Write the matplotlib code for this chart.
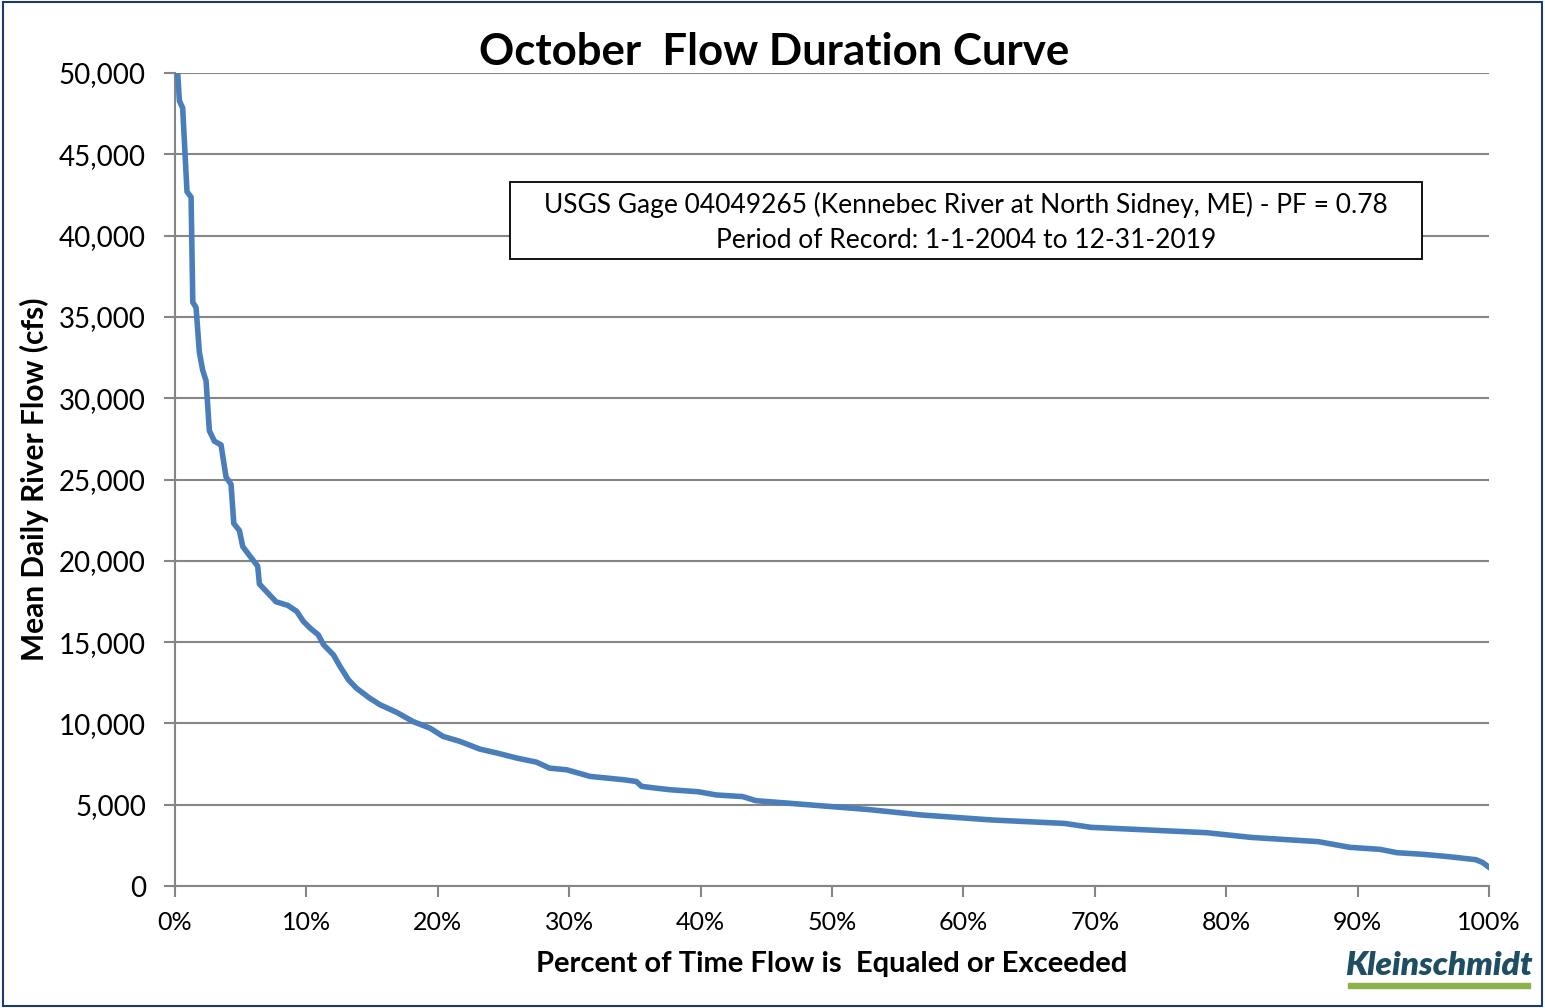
import matplotlib as mpl

mpl.use('Agg')
import matplotlib.pyplot as plt
from matplotlib.patches import Rectangle
from matplotlib.ticker import FuncFormatter

plt.rcParams['font.family'] = ['Lato', 'DejaVu Sans']

# percent of time flow is equaled or exceeded
pct = [0.08, 0.2, 0.33, 0.58, 0.91, 1.22, 1.35, 1.6, 1.85, 2.1, 2.36, 2.61,
       3.0, 3.5, 3.88, 4.26, 4.47, 4.9, 5.15, 5.66, 6.29, 6.42, 7.06, 7.69,
       8.58, 9.26, 9.77, 10.28, 10.9, 11.3, 12.05, 12.56, 13.2, 13.8, 14.8,
       15.6, 16.87, 18.1, 19.4, 20.4, 21.7, 23.2, 24.5, 26.0, 27.5, 28.5,
       29.8, 31.6, 34.1, 35.1, 35.5, 36.6, 37.7, 39.8, 41.2, 43.2, 44.2,
       46.9, 52.7, 56.8, 62.2, 67.7, 69.7, 78.5, 81.9, 87.0, 89.4, 91.7,
       93.0, 95.0, 97.0, 99.0, 99.5, 100.0]
# mean daily river flow (cfs)
flow = [55000, 50000, 48290, 47850, 42700, 42370, 35900, 35570, 32830, 31730,
        31070, 28000, 27350, 27130, 25150, 24710, 22300, 21860, 20880, 20330,
        19670, 18570, 18020, 17480, 17260, 16890, 16270, 15860, 15450, 14840,
        14220, 13500, 12680, 12170, 11560, 11150, 10680, 10120, 9710, 9200,
        8890, 8420, 8180, 7870, 7620, 7250, 7150, 6740, 6540, 6430, 6130,
        6020, 5920, 5800, 5600, 5500, 5250, 5080, 4710, 4370, 4060, 3850,
        3610, 3280, 2990, 2730, 2380, 2255, 2050, 1950, 1800, 1620, 1450, 1150]

x_ticks = list(range(0, 101, 10))
y_ticks = list(range(0, 50001, 5000))

fig = plt.figure(figsize=(15.45, 10.08), dpi=100)
ax = fig.add_axes([0.1133, 0.121, 0.8505, 0.8066])

grid_col = '#868686'
ax.plot(pct, flow, color='#4A7EBB', lw=4.0, solid_joinstyle='round', zorder=3)

ax.set_xlim(0, 100)
ax.set_ylim(0, 50000)
ax.set_xticks(x_ticks)
ax.set_yticks(y_ticks)
ax.xaxis.set_major_formatter(FuncFormatter(lambda v, p: f'{int(v)}%'))
ax.yaxis.set_major_formatter(FuncFormatter(lambda v, p: f'{int(v):,}'))
ax.yaxis.grid(True, color=grid_col, lw=1.5)
ax.set_axisbelow(True)
for s in ['top', 'right']:
    ax.spines[s].set_visible(False)
for s in ['left', 'bottom']:
    ax.spines[s].set_color(grid_col)
    ax.spines[s].set_linewidth(1.5)
ax.tick_params(axis='both', colors=grid_col, width=1.5, length=8,
               labelcolor='black')
ax.tick_params(axis='x', pad=10, labelsize=18)
ax.tick_params(axis='y', pad=13, labelsize=20)

ax.set_xlabel('Percent of Time Flow is  Equaled or Exceeded', fontsize=21,
              fontweight='bold', labelpad=12)
ax.set_ylabel('Mean Daily River Flow (cfs)', fontsize=21.5,
              fontweight='bold', labelpad=7)

fig.text(0.501, 0.948, 'October  Flow Duration Curve', ha='center',
         va='center', fontsize=31.5, fontweight='bold')

# annotation box
ax.add_patch(Rectangle((0.2549, 0.7712), 0.6941, 0.0947, transform=ax.transAxes,
                       fc='white', ec='black', lw=1.3, zorder=4))
ax.text(0.602, 0.8167,
        'USGS Gage 04049265 (Kennebec River at North Sidney, ME) - PF = 0.78\n'
        'Period of Record: 1-1-2004 to 12-31-2019',
        transform=ax.transAxes, ha='center', va='center', fontsize=19,
        linespacing=1.5, zorder=5)

# logo
fig.text(0.931, 0.0425, 'Kleinschmidt', ha='center', va='center',
         fontsize=24, fontweight='heavy', style='italic', color='#1E4E62')
fig.patches.append(Rectangle((0.8725, 0.0195), 0.1175, 0.0055,
                             transform=fig.transFigure, color='#8CB34A'))

# outer border
fig.patches.append(Rectangle((0.002, 0.002), 0.996, 0.996, transform=fig.transFigure,
                             fill=False, ec='#1F3A6E', lw=1.5))

fig.savefig('out.png', dpi=100)
